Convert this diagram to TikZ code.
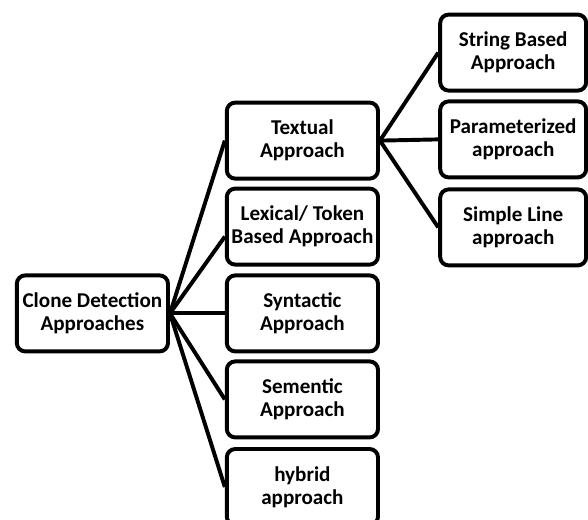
\documentclass[tikz,border=0pt]{standalone}
\usepackage{fontspec}
\setmainfont{Carlito}
\usetikzlibrary{positioning}

\begin{document}
\begin{tikzpicture}
    [
        Box/.style={rectangle,rounded corners=6pt,minimum width=3.78cm,minimum height=1.9cm,draw,line width=2.8pt,align=center,inner sep=1pt,
            font=\bfseries\fontsize{15}{16.3}\selectfont},
        SubBox/.style={Box,minimum width=3.65cm},
        Link/.style={line width=2.8pt}
    ]
    \useasboundingbox (0,0) rectangle (14.7,12.975);

    \node[Box] (Clone) at (2.31,5.14) {Clone Detection\\Approaches};

    \node[Box] (Textual) at (7.56,9.46) {Textual\\Approach};
    \node[Box] (Lexical) at (7.56,7.31) {Lexical/ Token\\Based Approach};
    \node[Box] (Syntactic) at (7.56,5.14) {Syntactic\\Approach};
    \node[Box] (Sementic) at (7.56,2.99) {Sementic\\Approach};
    \node[Box] (Hybrid) at (7.56,0.80) {hybrid\\approach};

    \node[SubBox] (String) at (12.83,11.66) {String Based\\Approach};
    \node[SubBox] (Param) at (12.83,9.49) {Parameterized\\approach};
    \node[SubBox] (Simple) at (12.83,7.29) {Simple Line\\approach};

    % first level
    \draw[Link] (Clone.east) -- (Textual.west);
    \draw[Link] (Clone.east) -- ([yshift=-0.25cm]Lexical.west);
    \draw[Link] (Clone.east) -- (Syntactic.west);
    \draw[Link] (Clone.east) -- (Sementic.west);
    \draw[Link] (Clone.east) -- (Hybrid.west);

    % textual approaches
    \draw[Link] (Textual.east) -- (String.west);
    \draw[Link] (Textual.east) -- (Param.west);
    \draw[Link] (Textual.east) -- (Simple.west);
\end{tikzpicture}
\end{document}
